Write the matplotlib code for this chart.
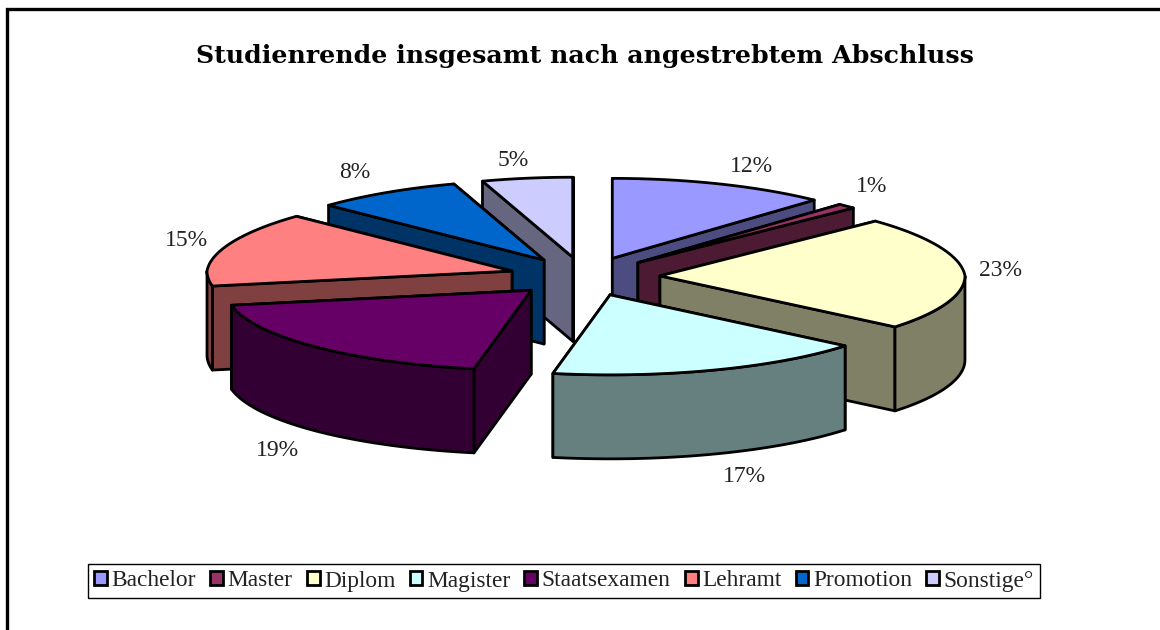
import numpy as np
import matplotlib
matplotlib.use("Agg")
from matplotlib import pyplot as plt
from matplotlib.patches import Polygon, Rectangle

# datos
abschluesse = ["Bachelor", "Master", "Diplom", "Magister", "Staatsexamen", "Lehramt", "Promotion", "Sonstige°"]
anteile = [12, 1, 23, 17, 19, 15, 8, 5]
titel = "Studienrende insgesamt nach angestrebtem Abschluss"

farben = ["#9999FF", "#993366", "#FFFFCC", "#CCFFFF", "#660066", "#FF8080", "#0066CC", "#CCCCFF"]
seiten = ["#4C4C80", "#4D1A33", "#808066", "#668080", "#330033", "#804040", "#003366", "#666680"]

# geometria de la torta en pixeles
cx, cy = 584.5, 276.5
rx, ry = 305, 80
tiefe = 84
ex, ey = 75.5, 19.5
lw = 2
persp = 0.045  # lo de atras queda un poco mas angosto

# posicion de las etiquetas
etiquetas_pos = [(751, 166), (872, 186), (1001, 270), (744, 476), (277, 450), (186, 241), (355, 173), (513, 160)]
orden = [7, 6, 5, 0, 1, 2, 3, 4]

fig = plt.figure(figsize=(11.6, 6.3), dpi=100)
ax = fig.add_axes([0, 0, 1, 1])
ax.set_xlim(0, 1160)
ax.set_ylim(630, 0)
ax.axis("off")


def punto(x0, y0, ang):
    c = np.cos(ang)
    return x0 + rx * (1 - persp * np.maximum(c, 0)) * np.sin(ang), y0 - ry * c


def cara(pts, color):
    ax.add_patch(Polygon(pts, closed=True, facecolor=color, edgecolor="black", linewidth=lw, joinstyle="round"))


acum = np.cumsum([0] + anteile) / sum(anteile) * 2 * np.pi

for i in orden:
    a0, a1 = acum[i], acum[i + 1]
    mitte = (a0 + a1) / 2
    x0 = cx + ex * np.sin(mitte)
    y0 = cy - ey * np.cos(mitte)

    # caras de corte, primero la que queda atras
    p0 = punto(x0, y0, a0)
    p1 = punto(x0, y0, a1)
    cortes = sorted([p0, p1], key=lambda p: p[1])
    for p in cortes:
        cara([(x0, y0), p, (p[0], p[1] + tiefe), (x0, y0 + tiefe)], seiten[i])

    # pared exterior, solo la parte de adelante
    w0, w1 = max(a0, np.pi / 2), min(a1, 3 * np.pi / 2)
    if w1 > w0:
        ang = np.linspace(w0, w1, 80)
        xs, ys = punto(x0, y0, ang)
        arriba = list(zip(xs, ys))
        abajo = list(zip(xs[::-1], ys[::-1] + tiefe))
        cara(arriba + abajo, seiten[i])

    # tapa
    ang = np.linspace(a0, a1, 120)
    xs, ys = punto(x0, y0, ang)
    cara([(x0, y0)] + list(zip(xs, ys)), farben[i])

fuente = "Liberation Serif"
for i in range(len(anteile)):
    ax.text(etiquetas_pos[i][0], etiquetas_pos[i][1], f"{anteile[i]}%", family=fuente, fontsize=17,
            color="#222222", ha="center", va="center")

ax.text(585, 56, titel, family="DejaVu Serif", fontweight="bold", fontsize=18.2, ha="center", va="center")

# marco del grafico
ax.plot([6.5, 6.5, 1160], [630, 8.5, 8.5], color="black", linewidth=2.4, solid_joinstyle="miter")

handles = [Rectangle((0, 0), 1, 1, facecolor=f, edgecolor="black", linewidth=2) for f in farben]
leg = ax.legend(handles, abschluesse, loc="center", bbox_to_anchor=(564 / 1160, 1 - 581 / 630), ncol=8,
                prop={"family": fuente, "size": 16.8}, frameon=True, fancybox=False, framealpha=1,
                edgecolor="black", handlelength=0.55, handleheight=0.55, handletextpad=0.2,
                columnspacing=0.6, borderpad=0.27, borderaxespad=0)
leg.get_frame().set_linewidth(1)
for t in leg.get_texts():
    t.set_color("#222222")

plt.savefig("out.png", dpi=100)
